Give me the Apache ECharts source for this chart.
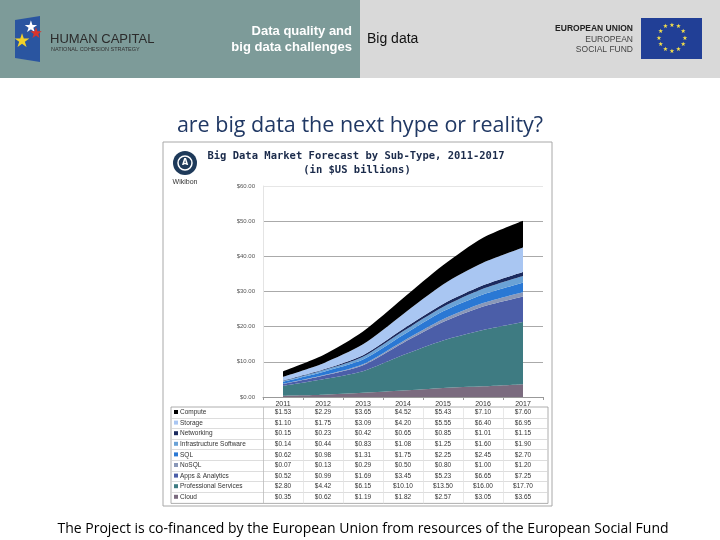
<!DOCTYPE html>
<html><head><meta charset="utf-8">
<script src="https://cdn.jsdelivr.net/npm/echarts@6/dist/echarts.min.js"></script>
<style>html,body{margin:0;padding:0;background:#fff}#c{width:720px;height:540px}</style>
</head><body><div id="c"></div>
<script>
const years = ['2011','2012','2013','2014','2015','2016','2017'];
const yTicks = [0,10,20,30,40,50,60];
// table order (top to bottom)
const names = ['Compute','Storage','Networking','Infrastructure Software','SQL','NoSQL','Apps & Analytics','Professional Services','Cloud'];
const compute = [1.53,2.29,3.65,4.52,5.43,7.10,7.60];
const storage = [1.10,1.75,3.09,4.20,5.55,6.40,6.95];
const networking = [0.15,0.23,0.42,0.65,0.85,1.01,1.15];
const infraSoftware = [0.14,0.44,0.83,1.08,1.25,1.60,1.90];
const sql = [0.62,0.98,1.31,1.75,2.25,2.45,2.70];
const nosql = [0.07,0.13,0.29,0.50,0.80,1.00,1.20];
const appsAnalytics = [0.52,0.99,1.69,3.45,5.23,6.65,7.25];
const proServices = [2.80,4.42,6.15,10.10,13.50,16.00,17.70];
const cloud = [0.35,0.62,1.19,1.82,2.57,3.05,3.65];
const colors = ['#000000','#a9c6f2','#1b2a5e','#6aa2d6','#2a78d4','#8a98b8','#4b5ea8','#3e7b82','#7b6b7f'];

const seriesData = [compute,storage,networking,infraSoftware,sql,nosql,appsAnalytics,proServices,cloud];
const chart = echarts.init(document.getElementById('c'));

// stacking: bottom = Cloud, top = Compute
const series = [];
for (let i = names.length - 1; i >= 0; i--) {
  series.push({
    name: names[i], type: 'line', stack: 'total', data: seriesData[i],
    smooth: 0.25, symbol: 'none', lineStyle: {width: 0},
    areaStyle: {color: colors[i], opacity: 1}, itemStyle: {color: colors[i]}
  });
}

const euStars = [];
for (let k = 0; k < 12; k++) {
  const a = k * Math.PI / 6;
  euStars.push({type:'text', style:{text:'★', x:672 + 13*Math.sin(a), y:38 - 13*Math.cos(a), fill:'#f5e04a', font:'6px DejaVu Sans', align:'center', verticalAlign:'middle'}});
}

const baseGraphic = [
  {type:'rect', shape:{x:0,y:0,width:360,height:78}, style:{fill:'#7d9b99'}},
  {type:'rect', shape:{x:360,y:0,width:360,height:78}, style:{fill:'#d9d9d9'}},
  {type:'polygon', shape:{points:[[15,20],[40,16],[40,62],[15,58]]}, style:{fill:'#2a55a0'}},
  {type:'text', style:{text:'★', x:31, y:28, fill:'#ffffff', font:'16px DejaVu Sans', align:'center', verticalAlign:'middle'}},
  {type:'text', style:{text:'★', x:36, y:34, fill:'#d8342c', font:'15px DejaVu Sans', align:'center', verticalAlign:'middle'}},
  {type:'text', style:{text:'★', x:22, y:42, fill:'#f2d22a', font:'19px DejaVu Sans', align:'center', verticalAlign:'middle'}},
  {type:'text', style:{text:'HUMAN CAPITAL', x:50, y:39, fill:'#2b2b2b', font:'13px Liberation Sans', verticalAlign:'middle'}},
  {type:'text', style:{text:'NATIONAL COHESION STRATEGY', x:51, y:49, fill:'#333', font:'5.5px Liberation Sans', verticalAlign:'middle'}},
  {type:'text', style:{text:'Data quality and', x:352, y:31, fill:'#ffffff', font:'bold 13px Liberation Sans', align:'right', verticalAlign:'middle'}},
  {type:'text', style:{text:'big data challenges', x:352, y:47, fill:'#ffffff', font:'bold 13px Liberation Sans', align:'right', verticalAlign:'middle'}},
  {type:'text', style:{text:'Big data', x:367, y:39, fill:'#111', font:'14px Liberation Sans', verticalAlign:'middle'}},
  {type:'text', style:{text:'EUROPEAN UNION', x:633, y:29, fill:'#222', font:'bold 8.5px Liberation Sans', align:'right', verticalAlign:'middle'}},
  {type:'text', style:{text:'EUROPEAN', x:633, y:40, fill:'#444', font:'8.5px Liberation Sans', align:'right', verticalAlign:'middle'}},
  {type:'text', style:{text:'SOCIAL FUND', x:633, y:50, fill:'#444', font:'8.5px Liberation Sans', align:'right', verticalAlign:'middle'}},
  {type:'rect', shape:{x:641,y:18,width:61,height:41}, style:{fill:'#213f96'}},
  ...euStars,
  {type:'text', style:{text:'are big data the next hype or reality?', x:360, y:126, fill:'#203864', font:'21.5px Open Sans', align:'center', verticalAlign:'middle'}},
  {type:'rect', shape:{x:163,y:142,width:389,height:364}, style:{fill:'none', stroke:'#a8a8a8', lineWidth:1}},
  {type:'circle', shape:{cx:185,cy:163,r:12}, style:{fill:'#1e3a5a'}},
  {type:'circle', shape:{cx:185,cy:163,r:7}, style:{fill:'none', stroke:'#ffffff', lineWidth:1.5}},
  {type:'text', style:{text:'A', x:185, y:163, fill:'#fff', font:'bold 8px DejaVu Sans', align:'center', verticalAlign:'middle'}},
  {type:'text', style:{text:'Wikibon', x:185, y:182, fill:'#333', font:'7px Liberation Sans', align:'center', verticalAlign:'middle'}},
  {type:'text', style:{text:'Big Data Market Forecast by Sub-Type, 2011-2017', x:356, y:156, fill:'#1b2b4b', font:'bold 10.5px DejaVu Sans Mono', align:'center', verticalAlign:'middle'}},
  {type:'text', style:{text:'(in $US billions)', x:357, y:170, fill:'#1b2b4b', font:'bold 10.5px DejaVu Sans Mono', align:'center', verticalAlign:'middle'}},
  {type:'text', style:{text:'The Project is co-financed by the European Union from resources of the European Social Fund', x:363, y:529, fill:'#000', font:'14px Open Sans', align:'center', verticalAlign:'middle'}}
];

chart.setOption({
  animation: false,
  backgroundColor: '#ffffff',
  grid: {left: 263, right: 177, top: 186, bottom: 143, containLabel: false},
  xAxis: {
    type: 'category', data: years, boundaryGap: true,
    axisLine: {lineStyle: {color: '#999'}},
    axisTick: {show: true, length: 3, lineStyle: {color: '#999'}},
    axisLabel: {margin: 4, fontSize: 7, color: '#333', fontFamily: 'Liberation Sans'}
  },
  yAxis: {
    type: 'value', min: 0, max: 60, interval: 10,
    axisLine: {show: true, lineStyle: {color: '#e4e4e4'}},
    axisTick: {show: false},
    axisLabel: {margin: 8, fontSize: 6, color: '#555', fontFamily: 'Liberation Sans', formatter: v => '$' + v.toFixed(2)},
    splitLine: {lineStyle: {color: ['#aaa','#aaa','#aaa','#aaa','#aaa','#aaa','#e6e6e6']}}
  },
  series: series,
  graphic: baseGraphic
});

// table below the chart, aligned with the category axis
const rowY0 = 412, rowH = 10.6;
const tableTop = 407, tableLeft = 171, tableRight = 548, labelRight = 263;
const tg = [];
tg.push({type:'rect', shape:{x:tableLeft,y:tableTop,width:tableRight-tableLeft,height:rowH*names.length+1}, style:{fill:'none', stroke:'#999', lineWidth:0.8}});
for (let r = 1; r < names.length; r++) {
  const yy = Math.round(tableTop + rowH*r) + 0.5;
  tg.push({type:'line', shape:{x1:tableLeft,y1:yy,x2:tableRight,y2:yy}, style:{stroke:'#d4d4d4', lineWidth:0.8}});
}
tg.push({type:'line', shape:{x1:labelRight+0.5,y1:tableTop,x2:labelRight+0.5,y2:tableTop+rowH*names.length+1}, style:{stroke:'#bbb', lineWidth:0.8}});
for (let c = 1; c < years.length; c++) {
  const xx = Math.round((chart.convertToPixel({xAxisIndex:0}, years[c-1]) + chart.convertToPixel({xAxisIndex:0}, years[c]))/2) + 0.5;
  tg.push({type:'line', shape:{x1:xx,y1:tableTop,x2:xx,y2:tableTop+rowH*names.length+1}, style:{stroke:'#e2e2e2', lineWidth:0.8}});
}
names.forEach((n, r) => {
  const y = rowY0 + rowH*r + 0.5;
  tg.push({type:'rect', shape:{x:174,y:y-2.5,width:4,height:4}, style:{fill:colors[r]}});
  tg.push({type:'text', style:{text:n, x:180, y:y, fill:'#333', font:'6.5px Liberation Sans', verticalAlign:'middle'}});
  seriesData[r].forEach((v, c) => {
    const x = chart.convertToPixel({xAxisIndex:0}, years[c]);
    tg.push({type:'text', style:{text:'$' + v.toFixed(2), x:x, y:y, fill:'#333', font:'6.5px Liberation Sans', align:'center', verticalAlign:'middle'}});
  });
});
chart.setOption({graphic: baseGraphic.concat(tg)}, {replaceMerge: ['graphic']});
</script></body></html>
